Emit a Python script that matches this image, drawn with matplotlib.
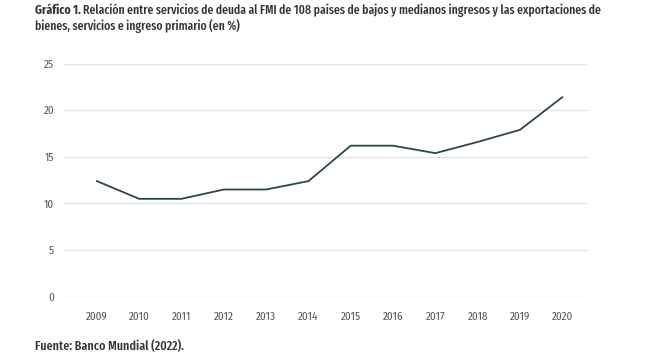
import matplotlib
matplotlib.use("Agg")
import matplotlib.pyplot as plt
from matplotlib import font_manager as fm

years = ["2009", "2010", "2011", "2012", "2013", "2014", "2015", "2016", "2017", "2018", "2019", "2020"]
values = [12.4, 10.5, 10.5, 11.5, 11.5, 12.4, 16.2, 16.2, 15.4, 16.6, 17.9, 21.4]
yticks = [0, 5, 10, 15, 20, 25]

names = {f.name for f in fm.fontManager.ttflist}
cands = ["Fira Sans Extra Condensed", "Fira Sans Condensed", "Roboto Condensed", "Asap Condensed", "Roboto"]
chosen = next(c for c in cands if c in names)
tick_cands = ["Fira Sans Condensed", "Roboto Condensed", "Roboto"]
tick_font = next(c for c in tick_cands if c in names)
plt.rcParams['font.family'] = [chosen, "DejaVu Sans"]

fig = plt.figure(figsize=(6.52, 3.58), dpi=100)
ax = fig.add_axes([0.098, 0.1712, 0.804, 0.651])
x = list(range(len(years)))
ax.plot(x, values, color="#2d4a35", lw=1.3, zorder=3)
ax.set_ylim(0, 25)
ax.set_xlim(-0.78, 11.61)
ax.set_yticks(yticks)
ax.set_xticks(x)
ax.set_xticklabels(years)
ax.grid(axis="y", color="#e3e3e8", lw=1.0, zorder=0)
for s in ax.spines.values():
    s.set_visible(False)
ax.tick_params(axis="both", length=0, labelsize=8, colors="#555555")
ax.tick_params(axis="x", pad=11)
ax.tick_params(axis="y", pad=7)
for lab in ax.get_xticklabels() + ax.get_yticklabels():
    lab.set_family([tick_font, "DejaVu Sans"])

fig.canvas.draw()
r = fig.canvas.get_renderer()
col = "#333333"
line1 = "Relación entre servicios de deuda al FMI de 108 países de bajos y medianos ingresos y las exportaciones de"
x0 = 35
fs = 10.5
for _ in range(5):
    t1 = fig.text(x0/652, 1-10/358, "Gráfico 1.", fontsize=fs, fontweight="bold", color=col, va="center", ha="left")
    bb = t1.get_window_extent(renderer=r)
    t2 = fig.text((bb.x1 + 2)/652, 1-10/358, line1, fontsize=fs, fontweight="medium", color=col, va="center", ha="left")
    bb2 = t2.get_window_extent(renderer=r)
    w = bb2.x1 - x0
    if abs(w - 565) < 1.5:
        break
    t1.remove(); t2.remove()
    fs = fs * 565 / w
fig.text(x0/652, 1-26/358, "bienes, servicios e ingreso primario (en %)", fontsize=fs, fontweight="medium", color=col, va="center", ha="left")

fs2 = fs
for _ in range(5):
    t3 = fig.text(x0/652, 1-346/358, "Fuente: Banco Mundial (2022).", fontsize=fs2, fontweight="medium", color=col, va="center", ha="left")
    w = t3.get_window_extent(renderer=r).x1 - x0
    if abs(w - 148) < 1.5:
        break
    t3.remove()
    fs2 = fs2 * 148 / w

fig.savefig("out.png", dpi=100)
